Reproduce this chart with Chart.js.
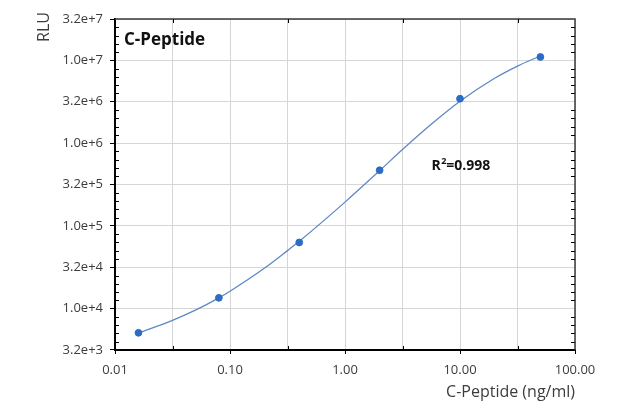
<!DOCTYPE html>
<html>
<head>
<meta charset="utf-8">
<script src="https://cdn.jsdelivr.net/npm/chart.js@4"></script>
<style>
  html, body { margin: 0; padding: 0; background: #fff; }
  #wrap { width: 631px; height: 406px; }
</style>
</head>
<body>
<div id="wrap"><canvas id="chart" width="631" height="406"></canvas></div>
<script>
// measured standards (ng/ml vs RLU)
const concentrations = [0.016, 0.08, 0.4, 2, 10, 50];
const rluValues = [5100, 13500, 63000, 470000, 3440000, 11000000];

// fitted curve
const curveX = [0.016, 0.0316, 0.05, 0.08, 0.1, 0.2, 0.316, 0.4, 1, 2, 3.16, 5.62, 10, 20, 31.6, 50];
const curveY = [5070, 7210, 9570, 13490, 16220, 30900, 50230, 65000, 193600, 464500, 835600, 1687000, 3200000, 6070000, 8530000, 11300000];

// axis ticks
const xTicks = [0.01, 0.031623, 0.1, 0.31623, 1, 3.1623, 10, 31.623, 100];
const yTicks = [3162.3, 1e4, 31623, 1e5, 316228, 1e6, 3162278, 1e7, 31622777];

const panelTitle = 'C-Peptide';
const yTitle = 'RLU';
const rSquared = '0.998';

const FONT = '"Open Sans", "Noto Sans", sans-serif';
const TEXT = '#3c3c3c';

const isDecade = v => Math.abs(Math.log10(v) - Math.round(Math.log10(v))) < 0.01;

const framePlugin = {
  id: 'frame',
  afterDatasetsDraw(chart) {
    const { ctx, chartArea: a, scales: { x, y } } = chart;
    ctx.save();
    // top and right border
    ctx.strokeStyle = '#3a3a3a';
    ctx.lineWidth = 1.5;
    ctx.beginPath();
    ctx.moveTo(a.left, a.top); ctx.lineTo(a.right, a.top); ctx.lineTo(a.right, a.bottom);
    ctx.stroke();

    // inward minor ticks on y (every 0.1 decade)
    ctx.strokeStyle = '#000';
    ctx.lineWidth = 1;
    ctx.beginPath();
    for (let k = 36; k < 75; k++) {
      if (k % 5 === 0) continue;
      const py = Math.round(y.getPixelForValue(Math.pow(10, k / 10))) + 0.5;
      ctx.moveTo(a.left, py); ctx.lineTo(a.left + 4, py);
      ctx.moveTo(a.right, py); ctx.lineTo(a.right - 4, py);
    }
    // inward half-decade ticks on x
    xTicks.filter(v => !isDecade(v)).forEach(v => {
      const px = Math.round(x.getPixelForValue(v)) + 0.5;
      ctx.moveTo(px, a.bottom); ctx.lineTo(px, a.bottom - 4);
      ctx.moveTo(px, a.top); ctx.lineTo(px, a.top + 4);
    });
    ctx.stroke();

    // y axis title, rotated, near the top
    ctx.save();
    ctx.translate(44, a.top + 8);
    ctx.rotate(-Math.PI / 2);
    ctx.fillStyle = TEXT;
    ctx.font = '16px ' + FONT;
    ctx.textAlign = 'center';
    ctx.textBaseline = 'middle';
    ctx.fillText(yTitle, 0, 0);
    ctx.restore();

    // panel label
    ctx.fillStyle = '#111';
    ctx.font = 'bold 17px ' + FONT;
    ctx.textBaseline = 'middle';
    ctx.textAlign = 'left';
    ctx.fillText(panelTitle, a.left + 9, a.top + 21);

    // R squared
    const rx = x.getPixelForValue(2.3) + 45;
    const ry = y.getPixelForValue(470000) - 4;
    ctx.font = 'bold 14px ' + FONT;
    ctx.fillText('R', rx, ry);
    const w = ctx.measureText('R').width;
    ctx.font = 'bold 9px ' + FONT;
    ctx.fillText('2', rx + w + 0.5, ry - 5);
    ctx.font = 'bold 14px ' + FONT;
    ctx.fillText('=' + rSquared, rx + w + 5.5, ry);
    ctx.restore();
  }
};

new Chart(document.getElementById('chart'), {
  type: 'scatter',
  data: {
    datasets: [
      {
        label: 'Standards',
        data: concentrations.map((c, i) => ({ x: c, y: rluValues[i] })),
        backgroundColor: '#2c6cc4',
        borderColor: '#2c6cc4',
        pointRadius: 3.4,
        pointHoverRadius: 3.4,
        order: 0
      },
      {
        label: 'Fit',
        type: 'line',
        data: curveX.map((c, i) => ({ x: c, y: curveY[i] })),
        borderColor: '#5f88c2',
        borderWidth: 1.3,
        pointRadius: 0,
        fill: false,
        cubicInterpolationMode: 'monotone',
        order: 1
      }
    ]
  },
  options: {
    responsive: false,
    animation: false,
    layout: { padding: { left: 0, top: 19, right: 56, bottom: 0 } },
    plugins: { legend: { display: false }, tooltip: { enabled: false } },
    scales: {
      x: {
        type: 'logarithmic',
        min: 0.01,
        max: 100,
        afterFit: s => { s.height = 56; },
        afterBuildTicks: s => { s.ticks = xTicks.map(v => ({ value: v })); },
        border: { color: '#000', width: 2 },
        grid: {
          color: '#d6d6d6',
          lineWidth: 1,
          tickLength: 4,
          tickColor: c => (c.tick && isDecade(c.tick.value) ? '#000' : 'rgba(0,0,0,0)')
        },
        ticks: {
          autoSkip: false,
          maxRotation: 0,
          padding: 8,
          color: TEXT,
          font: { family: FONT, size: 13 },
          callback: v => (isDecade(v) ? v.toFixed(2) : '')
        },
        title: {
          display: true,
          text: 'C-Peptide (ng/ml)',
          align: 'end',
          color: TEXT,
          font: { family: FONT, size: 16 },
          padding: { top: 0, bottom: 4 }
        }
      },
      y: {
        type: 'logarithmic',
        min: 3162.28,
        max: 31622777,
        afterFit: s => { s.width = 115; },
        afterBuildTicks: s => { s.ticks = yTicks.map(v => ({ value: v })); },
        border: { color: '#000', width: 2 },
        grid: { color: '#d6d6d6', lineWidth: 1, tickLength: 5, tickColor: '#000' },
        ticks: {
          padding: 7,
          color: TEXT,
          font: { family: FONT, size: 13 },
          callback: v => v.toExponential(1)
        }
      }
    }
  },
  plugins: [framePlugin]
});
</script>
</body>
</html>
